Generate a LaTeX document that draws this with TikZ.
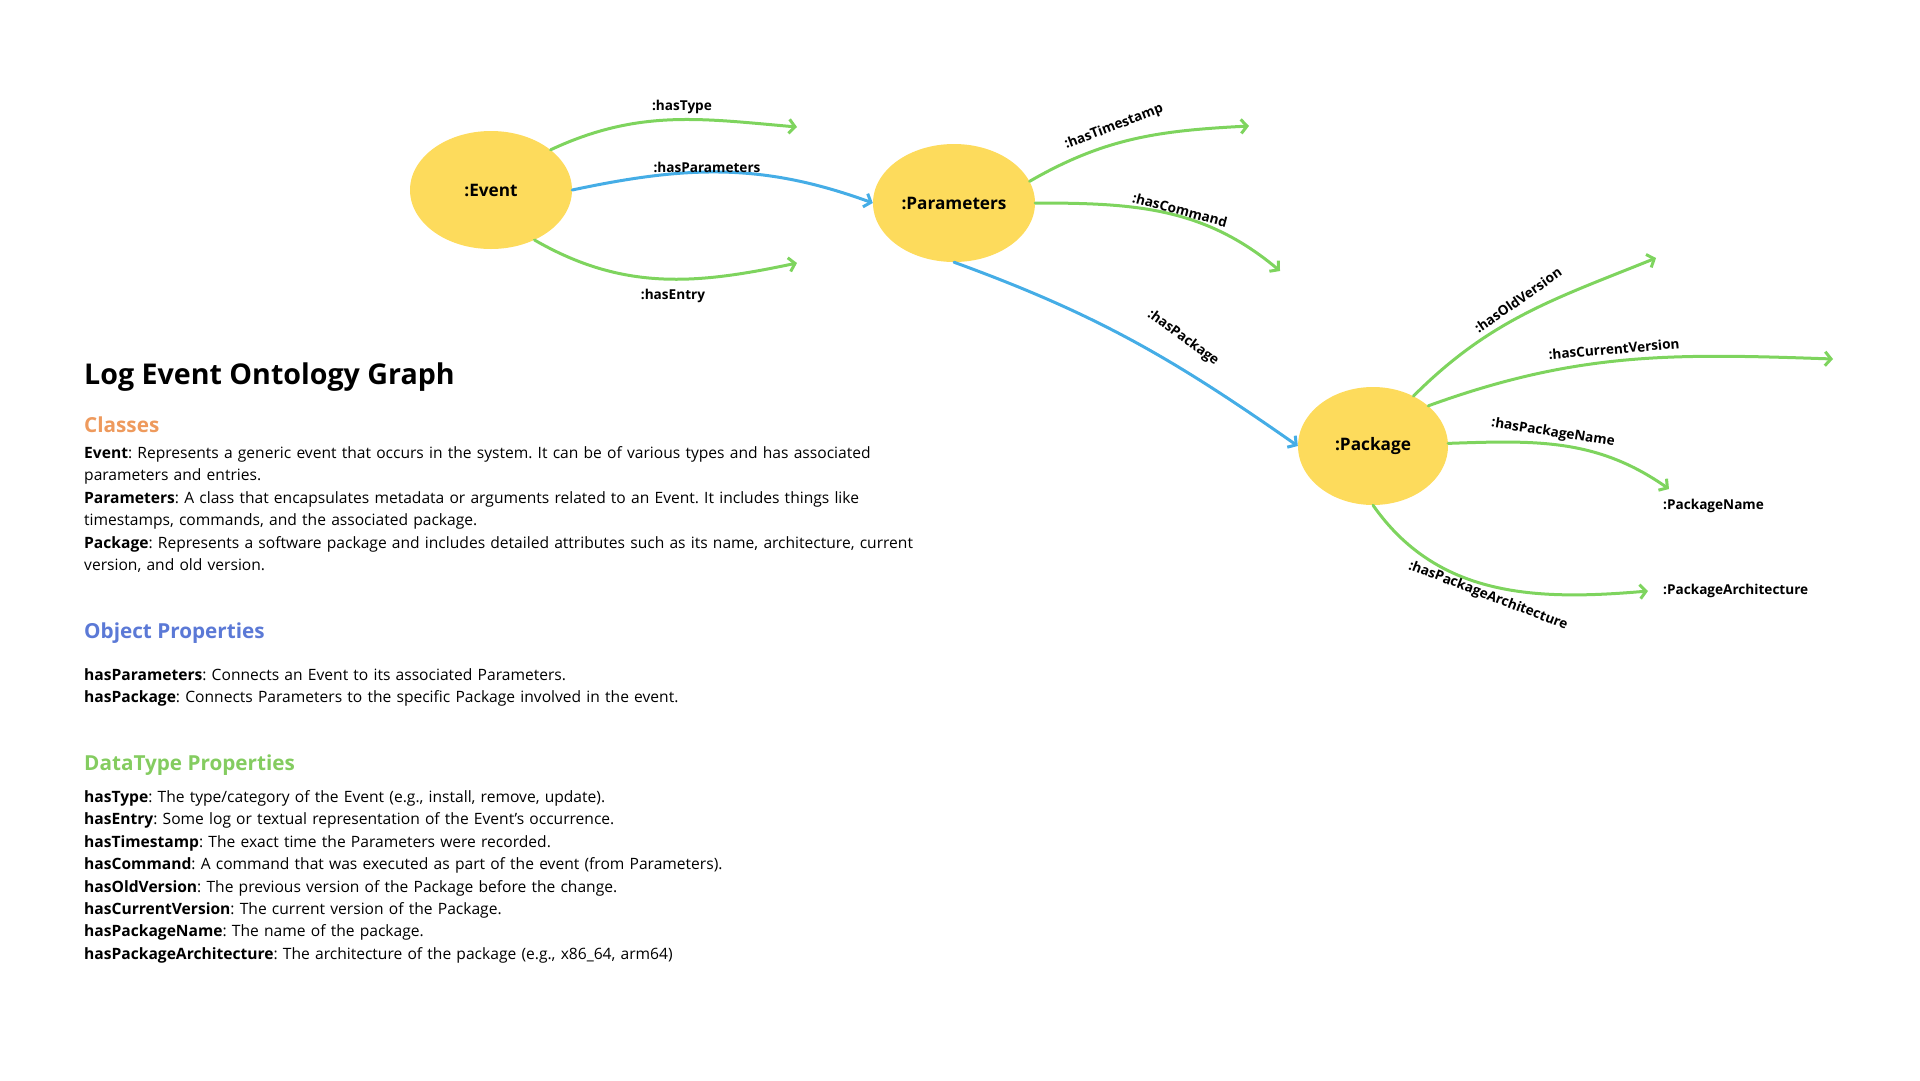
\documentclass[tikz,border=0pt]{standalone}
\usepackage{fontspec}
\setmainfont{Open Sans}
\usetikzlibrary{arrows.meta, shapes.geometric}
\frenchspacing
\definecolor{classfill}{HTML}{FDDB5C}
\definecolor{dgreen}{HTML}{7ED45E}
\definecolor{oblue}{HTML}{45ADE6}
\definecolor{horange}{HTML}{EE9A5D}
\definecolor{hblue}{HTML}{5B79D6}
\definecolor{hgreen}{HTML}{84CC60}
\tikzset{every picture/.append style={x=1pt, y=1pt}}
\tikzset{
    cls/.style={ellipse, fill=classfill, minimum width=162pt, minimum height=118pt,
    	font=\fontsize{17.2}{19}\selectfont\bfseries},
    dprop/.style={draw=dgreen, line width=3pt, line cap=round,
    	-{Straight Barb[length=6pt, width=14pt, line width=3pt]}},
    oprop/.style={draw=oblue, line width=3pt, line cap=round,
    	-{Straight Barb[length=6pt, width=14pt, line width=3pt]}},
    elabel/.style={font=\fontsize{13.6}{15}\selectfont\bfseries, inner sep=0pt},
    txt/.style={anchor=base west, inner sep=0pt, text width=1000pt, align=left,
    	font=\fontsize{15.6}{22.4}\selectfont},
    head/.style={anchor=base west, inner sep=0pt, font=\fontsize{20.7}{24}\selectfont\bfseries}
}

\begin{document}
\begin{tikzpicture}
  \useasboundingbox (0,0) rectangle (1920,-1080);

  \node[cls] (event) at (491,-190) {:Event};
  \node[cls] (params) at (954,-203) {:Parameters};
  \node[cls, minimum width=150pt] (package) at (1373,-446) {:Package};

  \coordinate (t0) at (797,-127);
  \coordinate (t1) at (797,-263);
  \coordinate (t2) at (1249,-126);
  \coordinate (t3) at (1280,-271);
  \coordinate (t4) at (1656,-258);
  \coordinate (t5) at (1833,-359);
  \coordinate (t6) at (1669,-489);
  \coordinate (t7) at (1648,-591);

  \draw[dprop] (event.34) to[out=25, in=175] (t0);
  \draw[oprop] (event.0) to[out=12, in=160] (params.west);
  \draw[dprop] (event.-49) to[out=-30, in=192] (t1);
  \draw[dprop] (params.16) to[out=30, in=183] (t2);
  \draw[dprop] (params.0) to[out=0, in=140] (t3);
  \draw[oprop] (params.south) to[out=-20, in=145] (package.west);
  \draw[dprop] (package.51) to[out=45, in=202] (t4);
  \draw[dprop] (package.36) to[out=20, in=178] (t5);
  \draw[dprop] (package.2) to[out=2, in=145] (t6);
  \draw[dprop] (package.south) to[out=-55, in=185] (t7);

  \node[elabel] (l0) at (682,-107) {:hasType};
  \node[elabel] (l1) at (707,-167) {:hasParameters};
  \node[elabel] (l2) at (673,-296) {:hasEntry};
  \node[elabel, rotate=21] (l3) at (1114,-127) {:hasTimestamp};
  \node[elabel, rotate=-15] (l4) at (1180,-210) {:hasCommand};
  \node[elabel, rotate=-36] (l5) at (1183,-338) {:hasPackage};
  \node[elabel, rotate=35] (l6) at (1518,-300) {:hasOldVersion};
  \node[elabel, rotate=5] (l7) at (1614,-349) {:hasCurrentVersion};
  \node[elabel, rotate=-9] (l8) at (1553,-433) {:hasPackageName};
  \node[elabel, rotate=-21] (l9) at (1488,-596) {:hasPackageArchitecture};
  \node[elabel, anchor=west] (pname) at (1663,-506) {:PackageName};
  \node[elabel, anchor=west] (parch) at (1663,-591) {:PackageArchitecture};

  % legend
  \node[head, font=\fontsize{28.6}{32}\selectfont\bfseries] (title) at (84,-384) {Log Event Ontology Graph};
  \node[head, text=horange] (h0) at (84,-432) {Classes};
  \node[txt] (b0) at (84,-458.5) {\textbf{Event}: Represents a generic event that occurs in the system. It can be of various types and has associated\\
    parameters and entries.\\
    \textbf{Parameters}: A class that encapsulates metadata or arguments related to an Event. It includes things like\\
    timestamps, commands, and the associated package.\\
    \textbf{Package}: Represents a software package and includes detailed attributes such as its name, architecture, current\\
    version, and old version.};
  \node[head, text=hblue] (h1) at (84,-638) {Object Properties};
  \node[txt] (b1) at (84,-680.5) {\textbf{hasParameters}: Connects an Event to its associated Parameters.\\
    \textbf{hasPackage}: Connects Parameters to the specific Package involved in the event.};
  \node[head, text=hgreen] (h2) at (84,-770) {DataType Properties};
  \node[txt] (b2) at (84,-802.5) {\textbf{hasType}: The type/category of the Event (e.g., install, remove, update).\\
    \textbf{hasEntry}: Some log or textual representation of the Event's occurrence.\\
    \textbf{hasTimestamp}: The exact time the Parameters were recorded.\\
    \textbf{hasCommand}: A command that was executed as part of the event (from Parameters).\\
    \textbf{hasOldVersion}: The previous version of the Package before the change.\\
    \textbf{hasCurrentVersion}: The current version of the Package.\\
    \textbf{hasPackageName}: The name of the package.\\
    \textbf{hasPackageArchitecture}: The architecture of the package (e.g., x86\_64, arm64)};

\end{tikzpicture}
\end{document}
